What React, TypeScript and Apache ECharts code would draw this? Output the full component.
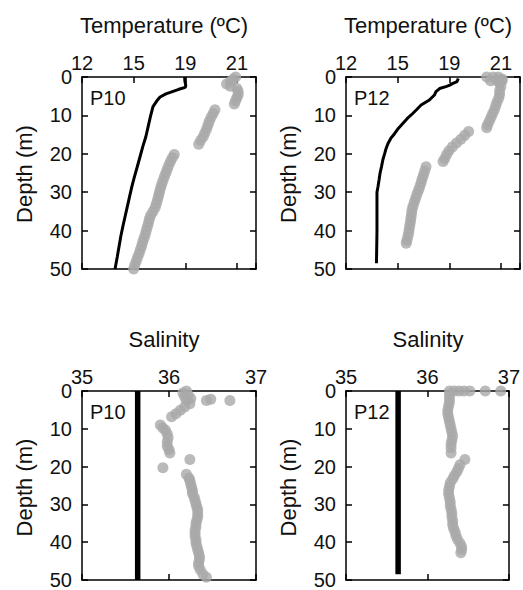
import React, { useEffect, useRef } from "react";
import * as echarts from "echarts";

// Tick labels of the temperature scale (ticks are evenly spaced on the page)
const tempTickLabels = ["12", "15", "19", "21"];
const tempTickValues = [12, 15, 19, 21];
const salinityTicks = [35, 36, 37];
const stationNames = ["P10", "P12"];

// Profiles as [depth (m), value]
const p10TempLine: [number, number][] = [
  [0, 18.95], [1, 18.97], [2.2, 19.02], [2.7, 19.0], [3.2, 18.5], [3.8, 18.0],
  [4.4, 17.5], [5.2, 17.05], [6.2, 16.8], [7.7, 16.5], [10.3, 16.3], [13, 16.12],
  [15.5, 15.95], [18, 15.72], [20.7, 15.5], [23.5, 15.27], [26, 15.06], [28.5, 14.9],
  [31.2, 14.76], [34, 14.62], [36.4, 14.5], [39, 14.37], [41.6, 14.25], [44.2, 14.15],
  [46.8, 14.05], [50, 13.92],
];

const p10TempDots: [number, number][] = [
  [0, 20.95], [0.6, 20.85], [1.2, 20.75], [1.8, 20.6], [2.4, 20.75], [3, 21.0],
  [3.8, 21.05], [4.6, 21.05], [5.4, 21.0], [6.2, 20.95], [7, 20.9],
  [8.5, 20.15], [9.5, 20.08], [10.5, 20.0], [11.5, 19.93], [12.5, 19.88], [13.5, 19.83],
  [14.5, 19.76], [15.5, 19.7], [16.5, 19.6], [17.5, 19.52],
  [20.2, 18.15], [21, 18.0], [22, 17.85], [23, 17.72], [24, 17.6], [25, 17.5],
  [26, 17.38], [27, 17.27], [28, 17.17], [29, 17.08], [30, 17.0], [31, 16.93],
  [32, 16.85], [33, 16.76], [34, 16.67], [35, 16.5], [36, 16.32], [37, 16.22],
  [38, 16.15], [39, 16.06], [40, 15.98], [41, 15.9], [42, 15.8], [43, 15.7],
  [44, 15.62], [45, 15.52], [46, 15.42], [47, 15.3], [48, 15.2], [49, 15.08], [50, 15.0],
];

const p12TempLine: [number, number][] = [
  [0.4, 19.35], [1.2, 19.3], [1.8, 19.1], [2.2, 19.0], [2.5, 18.74], [3, 18.25],
  [3.8, 17.97], [4.7, 17.85], [6, 17.46], [7.3, 16.82], [8.4, 16.5], [9.5, 16.17],
  [10.8, 15.75], [12.1, 15.4], [13.4, 15.05], [14.7, 14.83], [16, 14.6], [17.3, 14.44],
  [18.6, 14.33], [19.9, 14.25], [21.6, 14.14], [23.4, 14.06], [25, 13.98], [26.8, 13.92],
  [28.5, 13.86], [30, 13.8], [35, 13.8], [40, 13.8], [43, 13.79], [45.5, 13.78], [48.5, 13.77],
];

const p12TempDots: [number, number][] = [
  [0, 20.45], [0, 20.7], [0, 20.9], [0.5, 21.05], [1, 20.6], [1, 20.85], [1, 21.05],
  [1.5, 20.95], [2.5, 21.0], [3.5, 20.95], [4.5, 20.95], [5.5, 20.92], [6.5, 20.85],
  [7.5, 20.8], [8.5, 20.75], [9.5, 20.68], [10.5, 20.62], [11.5, 20.55], [12.5, 20.48],
  [13.2, 20.45],
  [14.2, 19.75], [15.2, 19.6], [16.2, 19.45], [17.2, 19.28], [18.2, 19.12], [19.2, 18.98],
  [20.2, 18.8], [21.2, 18.65], [22, 18.52],
  [23.4, 17.2], [24.5, 17.1], [25.5, 17.0], [26.5, 16.9], [27.5, 16.82], [28.5, 16.72],
  [29.5, 16.62], [30.5, 16.5], [31.5, 16.4], [32.5, 16.3], [33.5, 16.2], [34.5, 16.12],
  [35.5, 16.08], [36.5, 16.04], [37.5, 16.0], [38.5, 15.95], [39.5, 15.9], [40.5, 15.86],
  [41.5, 15.8], [42.5, 15.72], [43.3, 15.67],
];

const p10SalLine: [number, number][] = [[0, 35.64], [50, 35.64]];

const p10SalDots: [number, number][] = [
  [0, 36.2], [0.5, 36.16], [1, 36.22], [1.5, 36.18], [2, 36.25], [2.5, 36.2],
  [2.5, 36.43], [2.2, 36.48], [2.5, 36.7], [3.4, 36.24], [4.2, 36.18], [5.1, 36.13],
  [6, 36.08], [6.8, 36.03], [9, 35.9], [9.8, 35.93], [10.4, 35.96], [11.4, 35.98],
  [12.4, 35.99], [13.5, 35.98], [14.6, 35.98], [15.5, 36.0], [16.4, 36.01], [18.1, 36.24],
  [20.3, 35.93], [22, 36.2], [23, 36.23], [23.7, 36.24], [24.6, 36.25], [25.5, 36.26],
  [26.4, 36.27], [27.2, 36.27], [28.1, 36.29], [29, 36.3], [29.9, 36.31], [30.7, 36.32],
  [31.5, 36.33], [32.4, 36.33], [33.3, 36.33], [34.2, 36.32], [35, 36.31], [35.9, 36.31],
  [36.8, 36.3], [37.6, 36.3], [38.5, 36.3], [39.4, 36.31], [40.2, 36.31], [41.1, 36.32],
  [42, 36.33], [42.8, 36.34], [43.7, 36.35], [44.6, 36.35], [45.5, 36.34], [46.3, 36.34],
  [47.3, 36.36], [48.5, 36.39], [49.3, 36.43],
];

const p12SalLine: [number, number][] = [[0, 35.64], [48.5, 35.64]];

const p12SalDots: [number, number][] = [
  [0, 36.27], [0, 36.33], [0, 36.39], [0, 36.45], [0, 36.52], [0, 36.71], [0, 36.9],
  [1, 36.27], [2, 36.27], [3, 36.27], [4, 36.26], [5, 36.25], [6, 36.25], [7, 36.26],
  [8, 36.27], [9, 36.28], [10, 36.29], [11, 36.3], [12, 36.31], [13, 36.3], [14, 36.29],
  [15, 36.29], [16.4, 36.29], [18.1, 36.46], [19.5, 36.4], [20.5, 36.38], [21.4, 36.36],
  [22.4, 36.33], [23.3, 36.31], [24.3, 36.28], [25.3, 36.27], [26.3, 36.26], [27.3, 36.26],
  [28.3, 36.27], [29.3, 36.28], [30.3, 36.28], [31.3, 36.29], [32.3, 36.3], [33.3, 36.3],
  [34.3, 36.31], [35.3, 36.31], [36.3, 36.32], [37.3, 36.34], [38.3, 36.35], [39.3, 36.37],
  [40.3, 36.4], [41.2, 36.42], [42, 36.42], [42.8, 36.41],
];

// Temperature -> position on the evenly spaced tick scale (piecewise linear)
function tempToPos(t: number): number {
  const v = tempTickValues;
  if (t <= v[1]) return (t - v[0]) / (v[1] - v[0]);
  if (t <= v[2]) return 1 + (t - v[1]) / (v[2] - v[1]);
  return 2 + (t - v[2]) / (v[3] - v[2]);
}

const FONT = "'Liberation Sans', Arial, sans-serif";
const INK = "#111";
const DOT = "#a9a9a9";

function buildOption() {
  const panels = [
    { name: stationNames[0], kind: "temp", left: 82, top: 77, height: 192, line: p10TempLine, dots: p10TempDots },
    { name: stationNames[1], kind: "temp", left: 346, top: 77, height: 192, line: p12TempLine, dots: p12TempDots },
    { name: stationNames[0], kind: "sal", left: 82, top: 391, height: 191, line: p10SalLine, dots: p10SalDots },
    { name: stationNames[1], kind: "sal", left: 346, top: 391, height: 191, line: p12SalLine, dots: p12SalDots },
  ];
  const width = 174;
  const frame = { show: true, onZero: false, lineStyle: { color: "#000", width: 1.5 } };
  const tick = { show: true, inside: true, length: 6, lineStyle: { color: "#000", width: 1.5 } };
  const labelFont = { fontSize: 20, fontFamily: FONT, color: INK };

  const grid: any[] = [];
  const xAxis: any[] = [];
  const yAxis: any[] = [];
  const series: any[] = [];
  const graphic: any[] = [];

  panels.forEach((p, i) => {
    grid.push({ left: p.left, top: p.top, width, height: p.height, containLabel: false });
    const isTemp = p.kind === "temp";
    const xBase = isTemp
      ? { min: 0, max: 3.37, interval: 1 }
      : { min: salinityTicks[0], max: salinityTicks[salinityTicks.length - 1], interval: 1 };
    const fmt = isTemp
      ? (v: number) => (Number.isInteger(v) ? tempTickLabels[v] ?? "" : "")
      : (v: number) => (salinityTicks.includes(v) ? String(v) : "");
    xAxis.push({
      gridIndex: i, type: "value", position: "top", ...xBase,
      axisLine: frame, axisTick: tick, splitLine: { show: false },
      axisLabel: { ...labelFont, margin: 4, formatter: fmt, showMinLabel: true, showMaxLabel: true },
    });
    xAxis.push({
      gridIndex: i, type: "value", position: "bottom", ...xBase,
      axisLine: frame, axisTick: tick, splitLine: { show: false }, axisLabel: { show: false },
    });
    yAxis.push({
      gridIndex: i, type: "value", position: "left", inverse: true, min: 0, max: 50, interval: 10,
      axisLine: frame, axisTick: tick, splitLine: { show: false },
      axisLabel: { ...labelFont, margin: 10 },
    });
    yAxis.push({
      gridIndex: i, type: "value", position: "right", inverse: true, min: 0, max: 50, interval: 10,
      axisLine: frame, axisTick: tick, splitLine: { show: false }, axisLabel: { show: false },
    });

    const toX = isTemp ? tempToPos : (v: number) => v;
    series.push({
      type: "scatter", xAxisIndex: 2 * i, yAxisIndex: 2 * i,
      symbol: "circle", symbolSize: 11, itemStyle: { color: DOT },
      data: p.dots.map(([d, v]) => [toX(v), d]),
    });
    series.push({
      type: "line", xAxisIndex: 2 * i, yAxisIndex: 2 * i, showSymbol: false,
      lineStyle: { color: "#000", width: isTemp ? 3 : 5.5 },
      data: p.line.map(([d, v]) => [toX(v), d]),
    });

    const textStyle = (text: string, size: number) => ({
      text, fontSize: size, fontFamily: FONT, fill: INK,
      align: "center", textAlign: "center", verticalAlign: "middle", textVerticalAlign: "middle",
    });
    graphic.push({
      type: "text", x: p.left + width / 2 - 5, y: p.top - 52,
      style: textStyle(isTemp ? "Temperature (ºC)" : "Salinity", 22),
    });
    graphic.push({
      type: "text", x: p.left + 8, y: p.top + 21,
      style: { ...textStyle(p.name, 20), align: "left", textAlign: "left" },
    });
    graphic.push({
      type: "text", x: p.left - 58, y: p.top + p.height / 2 + 1, rotation: Math.PI / 2,
      style: textStyle("Depth (m)", 22),
    });
  });

  return { animation: false, backgroundColor: "#fff", grid, xAxis, yAxis, series, graphic };
}

export default function App() {
  const ref = useRef<HTMLDivElement>(null);
  useEffect(() => {
    if (!ref.current) return;
    const chart = echarts.init(ref.current, undefined, { renderer: "svg" });
    chart.setOption(buildOption() as any);
    return () => chart.dispose();
  }, []);
  return (
    <div
      ref={ref}
      style={{ position: "fixed", left: 0, top: 0, width: 523, height: 590, background: "#fff" }}
    />
  );
}
